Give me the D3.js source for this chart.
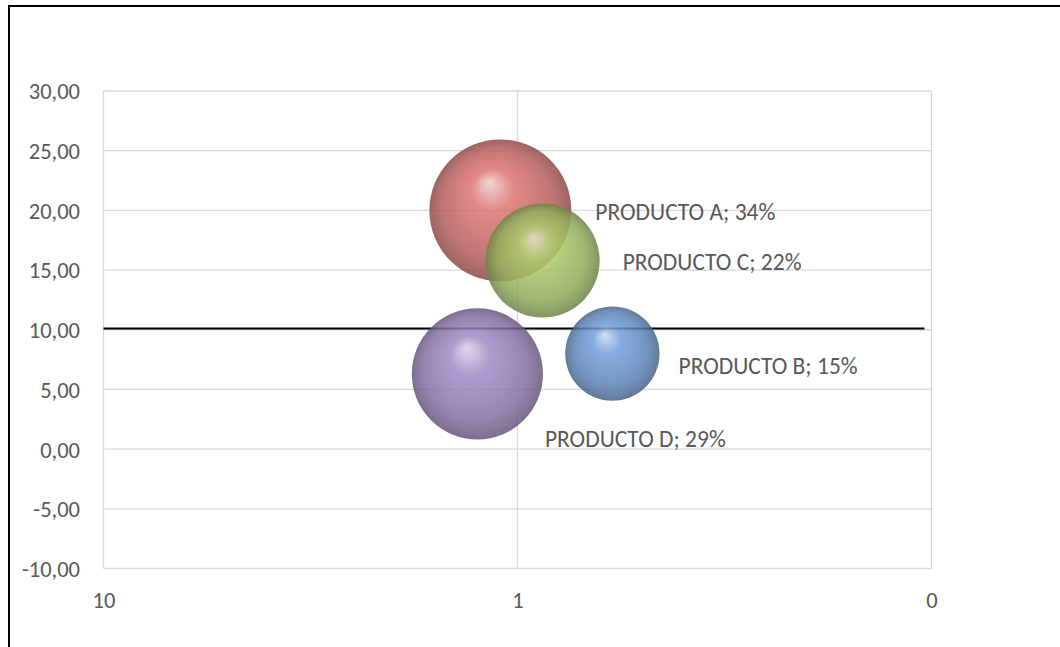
<!DOCTYPE html>
<html>
<head>
<meta charset="utf-8">
<script src="https://cdn.jsdelivr.net/npm/d3@7/dist/d3.min.js"></script>
<style>
  body { margin: 0; background: #fff; }
  text { font-family: Carlito, Lato, "Open Sans", sans-serif; fill: #595959; }
</style>
</head>
<body>
<svg width="1060" height="647"></svg>
<script>
// chart data
var products = ["PRODUCTO A", "PRODUCTO C", "PRODUCTO D", "PRODUCTO B"];
var xVals = [1.10, 0.87, 1.25, 0.59];
var yVals = [20.0, 15.8, 6.3, 8.0];
var shares = [34, 22, 29, 15];
var colors = ["#cd6c69", "#a3c166", "#9780b8", "#6893cc"];
var yTicks = [-10, -5, 0, 5, 10, 15, 20, 25, 30];
var xTicks = [10, 1, 0.1];
var xTickLabels = ["10", "1", "0"];
var refX = [10, 0.104];
var refY = [10.1, 10.1];
// label nudges (px) from the bubble's right edge
var labelDx = [24, 23, 2, 19];
var labelDy = [1, 1, 65, 12];

var svg = d3.select("svg");
var plotL = 103.5, plotR = 931.5, plotT = 91, plotB = 568.5;
var fontSize = "22.5px";
var labelSize = "23.5px";

// outer frame (only top + left visible)
svg.append("line").attr("x1", 9).attr("x2", 1060).attr("y1", 6).attr("y2", 6)
  .attr("stroke", "#000").attr("stroke-width", 2);
svg.append("line").attr("x1", 9).attr("x2", 9).attr("y1", 5).attr("y2", 647)
  .attr("stroke", "#000").attr("stroke-width", 2);

var x = d3.scaleLog().domain([10, 0.1]).range([plotL, plotR]);
var y = d3.scaleLinear().domain([-10, 30]).range([plotB, plotT]);
var rMax = 71;
var r = d3.scaleSqrt().domain([0, d3.max(shares)]).range([0, rMax]);

// gridlines
svg.append("g").selectAll("line").data(yTicks).enter().append("line")
  .attr("x1", plotL).attr("x2", plotR)
  .attr("y1", d => y(d)).attr("y2", d => y(d))
  .attr("stroke", "#d9d9d9").attr("stroke-width", 1.3);
svg.append("g").selectAll("line").data(xTicks).enter().append("line")
  .attr("x1", d => x(d)).attr("x2", d => x(d))
  .attr("y1", plotT).attr("y2", plotB)
  .attr("stroke", "#d9d9d9").attr("stroke-width", 1.3);

// axis labels
var yAxis = d3.axisLeft(y).tickValues(yTicks).tickSize(0).tickPadding(0)
  .tickFormat(d => d3.format(".2f")(d).replace(".", ",").replace("\u2212", "-"));
var gy = svg.append("g").attr("transform", "translate(80,0)").call(yAxis);
gy.select(".domain").remove();
gy.selectAll("text").style("font-size", fontSize).attr("dy", "0.35em").attr("fill", "#595959");

var xAxis = d3.axisBottom(x).tickValues(xTicks).tickSize(0).tickPadding(0)
  .tickFormat((d, i) => xTickLabels[i]);
var gx = svg.append("g").attr("transform", "translate(0,600)").call(xAxis);
gx.select(".domain").remove();
gx.selectAll("text").style("font-size", fontSize).attr("dy", "0.35em").attr("fill", "#595959");

// reference line
svg.append("line")
  .attr("x1", x(refX[0])).attr("x2", x(refX[1]))
  .attr("y1", y(refY[0])).attr("y2", y(refY[1]))
  .attr("stroke", "#000").attr("stroke-width", 2);

// sphere gradients
var defs = svg.append("defs");
colors.forEach(function (c, i) {
  var base = d3.color(c);
  var g = defs.append("radialGradient").attr("id", "sph" + i)
    .attr("cx", "50%").attr("cy", "50%").attr("r", "50%")
    .attr("fx", "42%").attr("fy", "30%");
  g.append("stop").attr("offset", "0%").attr("stop-color", d3.interpolateRgb(c, "#fff")(0.65));
  g.append("stop").attr("offset", "30%").attr("stop-color", base.brighter(0.2));
  g.append("stop").attr("offset", "78%").attr("stop-color", base.darker(0.35));
  g.append("stop").attr("offset", "100%").attr("stop-color", base.darker(1.1));
});

var bubbles = svg.append("g").selectAll("g").data(products).enter().append("g");
bubbles.append("circle")
  .attr("cx", (d, i) => x(xVals[i]))
  .attr("cy", (d, i) => y(yVals[i]))
  .attr("r", (d, i) => r(shares[i]))
  .attr("fill", (d, i) => "url(#sph" + i + ")")
  .attr("fill-opacity", 0.85);

// labels
svg.append("g").selectAll("text").data(products).enter().append("text")
  .attr("x", (d, i) => x(xVals[i]) + r(shares[i]) + labelDx[i])
  .attr("y", (d, i) => y(yVals[i]) + labelDy[i])
  .attr("dy", "0.35em")
  .style("font-size", labelSize)
  .text((d, i) => d + "; " + shares[i] + "%");
</script>
</body>
</html>
